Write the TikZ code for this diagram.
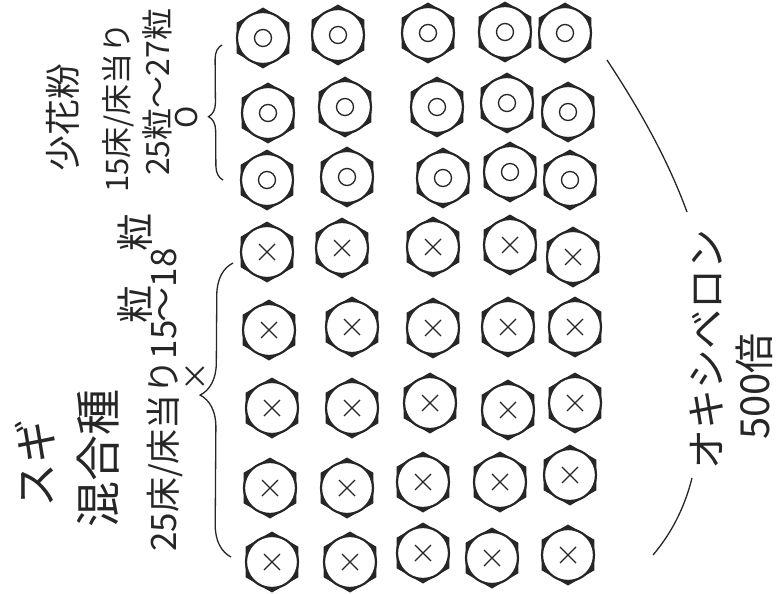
\documentclass[tikz,border=0pt]{standalone}
\usepackage{fontspec}
\setmainfont{Noto Sans CJK JP}
\usetikzlibrary{
  decorations.pathreplacing, % 大括号
  positioning                % 节点相对定位
}
\tikzset{
  seat edge/.style={fill=black!85},
  seat ring/.style={draw=black!85, fill=white, line width=2.2pt},
  seed mark/.style={draw=black!85, line width=1.3pt},
  vnote/.style={rotate=90, anchor=west, inner sep=0pt, text=black!85},
  brace line/.style={decorate, line width=1.3pt, draw=black!85},
  cover line/.style={line width=1.3pt, draw=black!85}
}
% 六角のトレイ穴（外形）
\newcommand{\hexseat}[2]{%
  \fill[seat edge] (#1,#2) +(90:30.5) -- +(150:30.5) -- +(210:30.5)
    -- +(270:30.5) -- +(330:30.5) -- +(30:30.5) -- cycle;
  \draw[seat ring] (#1,#2) circle (26);
}
\newcommand{\seedO}[2]{\hexseat{#1}{#2}\draw[seed mark] (#1,#2) circle (8.5);}
\newcommand{\seedX}[2]{\hexseat{#1}{#2}%
  \draw[seed mark] (#1,#2) +(-8,-8) -- +(8,8) +(-8,8) -- +(8,-8);}
% 肩付きの「粒」
\newcommand{\tsubu}{\raisebox{27pt}{\makebox[32pt]{\fontsize{38}{38}\selectfont 粒}}}

\begin{document}
\begin{tikzpicture}[x=1pt, y=-1pt]
    \useasboundingbox (0,0) rectangle (777,594);

    % --- 少花粉：上の 3 段 ---
    \foreach \x/\y in {263/38, 338/35, 428/33, 505/32, 565/33,
                       268/113, 345/107, 437/107, 507/103, 568/112,
                       267/180, 347/177, 443/178, 510/172, 570/180}
      \seedO{\x}{\y};

    % --- 混合種：下の 5 段 ---
    \foreach \x/\y in {267/252, 342/248, 433/247, 510/245, 573/257,
                       269/330, 352/327, 433/328, 508/327, 575/327,
                       272/408, 352/408, 430/403, 508/410, 575/403,
                       270/488, 347/488, 423/482, 500/482, 570/475,
                       272/562, 350/562, 423/553, 492/558, 568/555}
      \seedX{\x}{\y};

    % 左側のメモ
    \node[vnote, font=\fontsize{44}{44}\selectfont] (sugi) at (35,508) {スギ};
    \node[vnote, font=\fontsize{46}{46}\selectfont] (kongo) at (98,528) {混合種};
    \node[vnote, anchor=base west, font=\fontsize{35}{35}\selectfont] (mixcount) at (176,552)
      {25床/床当り15\tsubu\hspace{-34pt}～18\tsubu};
    \node[vnote, anchor=center, font=\fontsize{30}{30}\selectfont] (mixmark) at (196,376) {×};

    \node[vnote, font=\fontsize{36}{36}\selectfont] (shoukafun) at (63,172) {少花粉};
    \node[vnote, font=\fontsize{31}{31}\selectfont] (lowbeds) at (118,193) {15床/床当り};
    \node[vnote, font=\fontsize{32}{32}\selectfont] (lowcount) at (157,176) {25粒～27粒};
    \node[vnote, anchor=center, font=\fontsize{30}{30}\selectfont] (lowmark) at (187,117) {O};

    % 括弧
    \draw[brace line, decoration={brace, amplitude=14pt, aspect=0.47}] (223,180) -- (222,45);
    \draw[brace line, decoration={brace, amplitude=32pt, aspect=0.55}] (231,557) -- (233,263);

    % 右側：オキシベロン
    \draw[cover line] (607,60) .. controls (640,110) and (668,160) .. (687,212);
    \draw[cover line] (692,478) .. controls (684,510) and (670,535) .. (653,555);
    \node[vnote, font=\fontsize{40}{40}\selectfont] (oxy) at (707,470) {オキシベロン};
    \node[vnote, font=\fontsize{40}{40}\selectfont] (ratio) at (754,440) {500倍};
\end{tikzpicture}
\end{document}
